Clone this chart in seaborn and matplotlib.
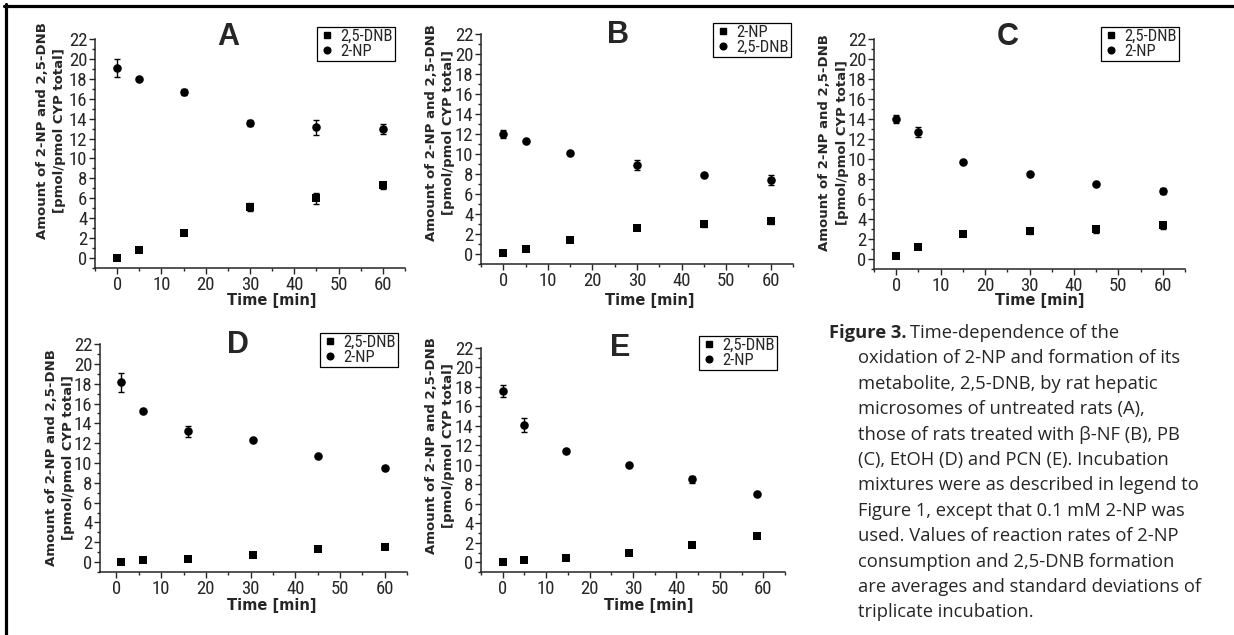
import pandas as pd
import seaborn as sns
import matplotlib.pyplot as plt
from matplotlib import font_manager
from matplotlib.lines import Line2D
from matplotlib.ticker import MultipleLocator

# sampling times per panel (min)
time_a = [0, 5, 15, 30, 45, 60]
time_b = [0, 5, 15, 30, 45, 60]
time_c = [0, 5, 15, 30, 45, 60]
time_d = [1, 6, 16, 30.5, 45, 60]
time_e = [0, 5, 14.5, 29, 43.5, 58.5]

# square series (mean, sd)
sq_a = [0.0, 0.77, 2.5, 5.1, 6.0, 7.3]
sq_a_sd = [0.05, 0.1, 0.2, 0.4, 0.55, 0.35]
sq_b = [0.1, 0.5, 1.37, 2.6, 3.0, 3.27]
sq_b_sd = [0.05, 0.05, 0.1, 0.15, 0.3, 0.3]
sq_c = [0.27, 1.2, 2.5, 2.8, 2.95, 3.35]
sq_c_sd = [0.05, 0.1, 0.1, 0.3, 0.35, 0.35]
sq_d = [0.0, 0.2, 0.34, 0.67, 1.35, 1.55]
sq_d_sd = [0.05, 0.05, 0.05, 0.05, 0.2, 0.15]
sq_e = [0.0, 0.27, 0.45, 0.96, 1.75, 2.67]
sq_e_sd = [0.05, 0.05, 0.05, 0.15, 0.1, 0.1]

# circle series (mean, sd)
ci_a = [19.1, 18.0, 16.65, 13.57, 13.13, 12.96]
ci_a_sd = [0.9, 0.1, 0.3, 0.3, 0.77, 0.5]
ci_b = [12.0, 11.25, 10.1, 8.85, 7.85, 7.35]
ci_b_sd = [0.4, 0.1, 0.1, 0.5, 0.1, 0.5]
ci_c = [14.0, 12.7, 9.7, 8.5, 7.45, 6.8]
ci_c_sd = [0.4, 0.5, 0.1, 0.1, 0.1, 0.3]
ci_d = [18.15, 15.25, 13.2, 12.3, 10.73, 9.5]
ci_d_sd = [0.95, 0.2, 0.55, 0.1, 0.1, 0.2]
ci_e = [17.55, 14.1, 11.4, 10.0, 8.5, 7.0]
ci_e_sd = [0.6, 0.7, 0.2, 0.1, 0.4, 0.1]

letters = ['A', 'B', 'C', 'D', 'E']
legend_labels = [('2,5-DNB', '2-NP'), ('2-NP', '2,5-DNB'), ('2,5-DNB', '2-NP'),
                 ('2,5-DNB', '2-NP'), ('2,5-DNB', '2-NP')]

y_label = 'Amount of 2-NP and 2,5-DNB\n[pmol/pmol CYP total]'
x_label = 'Time [min]'

caption_head = 'Figure 3.'
caption_lines = [
    'Time-dependence of the',
    'oxidation of 2-NP and formation of its',
    'metabolite, 2,5-DNB, by rat hepatic',
    'microsomes of untreated rats (A),',
    'those of rats treated with β-NF (B), PB',
    '(C), EtOH (D) and PCN (E). Incubation',
    'mixtures were as described in legend to',
    'Figure 1, except that 0.1 mM 2-NP was',
    'used. Values of reaction rates of 2-NP',
    'consumption and 2,5-DNB formation',
    'are averages and standard deviations of',
    'triplicate incubation.',
]

panels = [
    (time_a, sq_a, sq_a_sd, ci_a, ci_a_sd),
    (time_b, sq_b, sq_b_sd, ci_b, ci_b_sd),
    (time_c, sq_c, sq_c_sd, ci_c, ci_c_sd),
    (time_d, sq_d, sq_d_sd, ci_d, ci_d_sd),
    (time_e, sq_e, sq_e_sd, ci_e, ci_e_sd),
]

# layout: axes rect, xlim left, letter pos, legend anchor, ylabel pos, xlabel pos
layout = [
    ([0.0770, 0.5780, 0.2512, 0.3606], -5.0, (0.43, 1.009), (0.968, 1.052), (-0.092, 0.598), (0.571, -0.108)),
    ([0.3898, 0.5843, 0.2528, 0.3622], -5.0, (0.44, 0.996), (0.994, 1.048), (-0.082, 0.570), (0.540, -0.125)),
    ([0.7083, 0.5764, 0.2520, 0.3622], -5.0, (0.43, 1.009), (0.981, 1.052), (-0.082, 0.548), (0.533, -0.103)),
    ([0.0810, 0.0992, 0.2488, 0.3590], -3.7, (0.45, 0.996), (0.971, 1.048), (-0.080, 0.500), (0.560, -0.113)),
    ([0.3898, 0.0992, 0.2464, 0.3528], -5.0, (0.457, 1.000), (0.974, 1.054), (-0.084, 0.5625), (0.553, -0.115)),
]

sns.set_style('ticks')
fonts = font_manager.fontManager.ttflist
names = {f.name for f in fonts}
narrow = next((n for n in ['Liberation Sans Narrow', 'Roboto Condensed', 'DejaVu Sans Condensed']
               if n in names), 'Liberation Sans')
bold_fams = {f.name for f in fonts if f.weight in ('bold', 700, 600, 'semibold') or
             (isinstance(f.weight, int) and f.weight >= 600)}
cap_font = next((n for n in ['Noto Sans', 'Open Sans', 'Lato', 'Inter'] if n in bold_fams), 'DejaVu Sans')

fig = plt.figure(figsize=(12.34, 6.35), dpi=100)

for (t, sq, sq_sd, ci, ci_sd), (rect, x0, let_pos, leg_pos, yl_pos, xl_pos), letter, labs in zip(
        panels, layout, letters, legend_labels):
    ax = fig.add_axes(rect)
    df = pd.DataFrame({'time': t, 'sq': sq, 'sq_sd': sq_sd, 'ci': ci, 'ci_sd': ci_sd})
    ax.errorbar(df['time'], df['sq'], yerr=df['sq_sd'], fmt='none', ecolor='black',
                elinewidth=1, capsize=2.2, capthick=1)
    ax.errorbar(df['time'], df['ci'], yerr=df['ci_sd'], fmt='none', ecolor='black',
                elinewidth=1, capsize=2.2, capthick=1)
    sns.scatterplot(data=df, x='time', y='sq', marker='s', s=28, color='black',
                    linewidth=0, ax=ax, label=labs[0], zorder=3)
    sns.scatterplot(data=df, x='time', y='ci', marker='o', s=38, color='black',
                    linewidth=0, ax=ax, label=labs[1], zorder=3)

    ax.set_xlim(x0, 65)
    ax.set_ylim(-1, 22)
    ax.xaxis.set_major_locator(MultipleLocator(10))
    ax.xaxis.set_minor_locator(MultipleLocator(5))
    ax.yaxis.set_major_locator(MultipleLocator(2))
    ax.yaxis.set_minor_locator(MultipleLocator(1))
    sns.despine(ax=ax)
    for sp in ax.spines.values():
        sp.set_linewidth(1.1)
    ax.tick_params(which='major', direction='out', length=4, width=1, pad=1.5)
    ax.tick_params(which='minor', direction='out', length=2.5, width=1)
    for lab in ax.get_xticklabels() + ax.get_yticklabels():
        lab.set_fontfamily(narrow)
        lab.set_fontsize(13.5)

    ax.set_xlabel(x_label, fontsize=10.5, fontweight='bold', family='DejaVu Sans')
    ax.set_ylabel(y_label, fontsize=9.5, fontweight='bold', family='DejaVu Sans', linespacing=1.45)
    ax.xaxis.set_label_coords(*xl_pos)
    ax.yaxis.set_label_coords(*yl_pos)

    ax.text(let_pos[0], let_pos[1], letter, transform=ax.transAxes, ha='center', va='center',
            fontsize=22, fontweight='bold', family='Liberation Sans')

    handles = [Line2D([], [], marker='s', color='black', ls='none', markersize=4.3),
               Line2D([], [], marker='o', color='black', ls='none', markersize=4.8)]
    leg = ax.legend(handles, labs, loc='upper right', bbox_to_anchor=leg_pos,
                    frameon=True, fancybox=False, edgecolor='black', framealpha=1,
                    borderpad=0.12, labelspacing=0.0, handletextpad=0.3, handlelength=1.0,
                    borderaxespad=0, prop={'family': narrow, 'size': 12})
    leg.get_frame().set_linewidth(0.9)

# caption
cap_size = 13.2
x_head = 829 / 1234
x_ind = 858 / 1234
y_first = 1 - 333 / 635
step = 25.4 / 635
head = fig.text(x_head, y_first, caption_head, fontsize=cap_size, fontweight='bold',
                family=cap_font, ha='left', va='center')
fig.canvas.draw()
bb = head.get_window_extent(fig.canvas.get_renderer())
fig.text(bb.x1 / 1234 + 4 / 1234, y_first, caption_lines[0], fontsize=cap_size,
         family=cap_font, ha='left', va='center')
for i, line in enumerate(caption_lines[1:], start=1):
    fig.text(x_ind, y_first - i * step, line, fontsize=cap_size, family=cap_font,
             ha='left', va='center')

# frame on top and left
fig.add_artist(Line2D([4 / 1234, 1], [1 - 5.5 / 635, 1 - 5.5 / 635], color='black', lw=2.3,
                      transform=fig.transFigure))
fig.add_artist(Line2D([6 / 1234, 6 / 1234], [0, 1 - 4 / 635], color='black', lw=2.3,
                      transform=fig.transFigure))

fig.savefig('out.png', dpi=100)
